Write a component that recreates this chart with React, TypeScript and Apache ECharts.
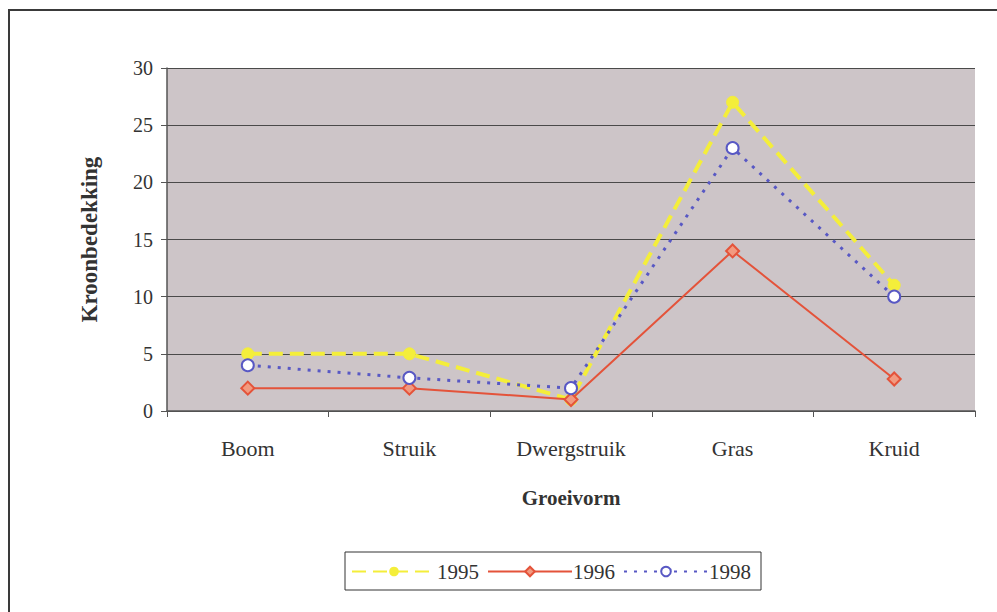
import React, { useEffect, useRef } from "react";
import * as echarts from "echarts";

const categories = ["Boom", "Struik", "Dwergstruik", "Gras", "Kruid"];
const series1995 = [5, 5, 1, 27, 11];
const series1996 = [2, 2, 1, 14, 2.8];
const series1998 = [4, 2.9, 2, 23, 10];
const yTicks = { min: 0, max: 30, interval: 5 };

const FONT = "Liberation Serif, Times New Roman, serif";

export default function App() {
  const ref = useRef<HTMLDivElement>(null);
  useEffect(() => {
    if (!ref.current) return;
    const chart = echarts.init(ref.current, null, { renderer: "svg" });
    chart.setOption({
      animation: false,
      backgroundColor: "#ffffff",
      textStyle: { fontFamily: FONT },
      graphic: [
        {
          type: "rect",
          shape: { x: 9, y: 10, width: 1200, height: 800 },
          style: { fill: "none", stroke: "#3a3a3a", lineWidth: 2 },
          silent: true,
          z: -10,
        },
      ],
      grid: {
        left: 167,
        right: 22,
        top: 68,
        bottom: 201,
        show: true,
        backgroundColor: "#cdc5c8",
        borderWidth: 0,
      },
      legend: {
        left: 345,
        top: 552,
        padding: [9, 10, 8, 6],
        borderColor: "#333",
        borderWidth: 1,
        itemWidth: 84,
        itemHeight: 12,
        itemGap: 8,
        textStyle: { fontFamily: "Liberation Serif", fontSize: 21, color: "#333", padding: [0, 0, 0, -4] },
        data: [
          { name: "1995", textStyle: { fontFamily: "Liberation Serif" } },
          { name: "1996", textStyle: { fontFamily: "Liberation Serif" } },
          { name: "1998", textStyle: { fontFamily: "Liberation Serif" } },
        ],
      },
      xAxis: {
        type: "category",
        data: categories,
        boundaryGap: true,
        name: "Groeivorm",
        nameLocation: "middle",
        nameGap: 76,
        nameTextStyle: { fontFamily: FONT, fontSize: 21, fontWeight: "bold", color: "#333" },
        axisLine: { lineStyle: { color: "#555", width: 1.5 } },
        axisTick: { show: true, length: 6, lineStyle: { color: "#555" } },
        axisLabel: { fontFamily: FONT, fontSize: 22, color: "#333", margin: 26 },
        splitLine: { show: false },
      },
      yAxis: {
        type: "value",
        min: yTicks.min,
        max: yTicks.max,
        interval: yTicks.interval,
        name: "Kroonbedekking",
        nameLocation: "middle",
        nameGap: 66,
        nameTextStyle: { fontFamily: FONT, fontSize: 23, fontWeight: "bold", color: "#333" },
        axisLine: { show: true, lineStyle: { color: "#555", width: 1.5 } },
        axisTick: { show: true, length: 6, lineStyle: { color: "#555" } },
        axisLabel: { fontFamily: FONT, fontSize: 20, color: "#333", margin: 14 },
        splitLine: { show: true, lineStyle: { color: "#4a4a4a", width: 1.2 } },
      },
      series: [
        {
          name: "1995",
          type: "line",
          data: series1995,
          symbol: "circle",
          symbolSize: 12,
          itemStyle: { color: "#f4ee3a", borderColor: "#f4ee3a" },
          lineStyle: { color: "#f4ee3a", width: 4, type: [14, 7] },
          z: 3,
        },
        {
          name: "1996",
          type: "line",
          data: series1996,
          symbol: "diamond",
          symbolSize: 13,
          itemStyle: { color: "#f29a80", borderColor: "#e4533a", borderWidth: 2 },
          lineStyle: { color: "#e4533a", width: 2 },
          z: 4,
        },
        {
          name: "1998",
          type: "line",
          data: series1998,
          symbol: "emptyCircle",
          symbolSize: 12,
          itemStyle: { color: "#5858c4", borderColor: "#5858c4", borderWidth: 2 },
          lineStyle: { color: "#5858c4", width: 3, type: [3, 7] },
          z: 5,
        },
      ],
    });
    return () => chart.dispose();
  }, []);
  return (
    <div
      ref={ref}
      style={{ position: "absolute", left: 0, top: 0, width: 997, height: 612 }}
    />
  );
}
